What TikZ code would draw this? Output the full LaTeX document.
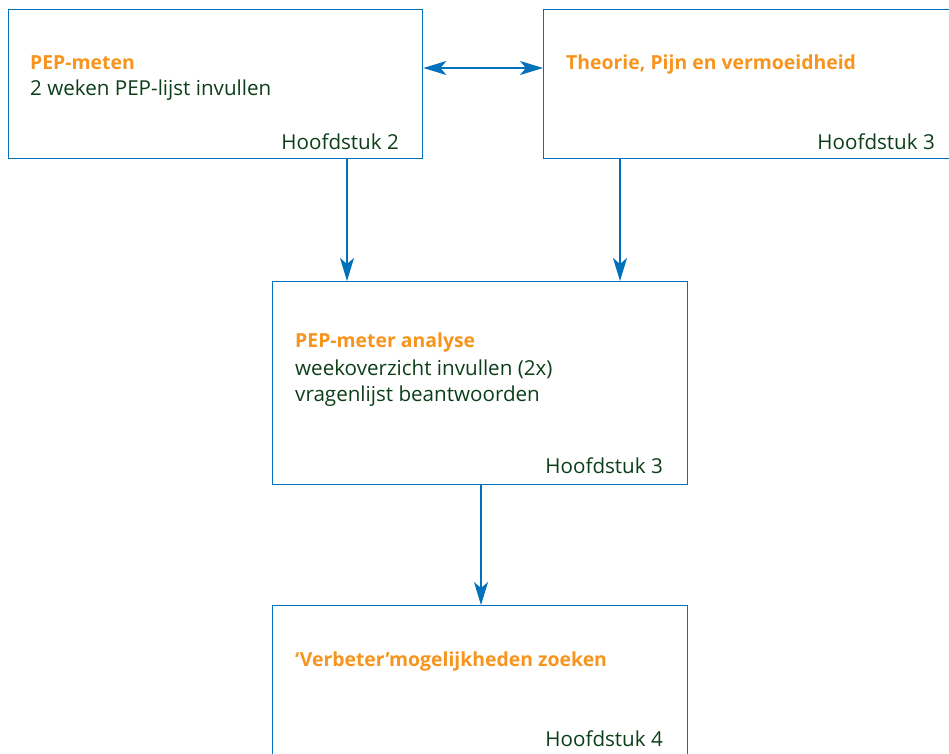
\documentclass[tikz,border=0pt]{standalone}
\usepackage{fontspec}
\setmainfont{Open Sans}
\usetikzlibrary{arrows.meta}
\definecolor{lineblue}{RGB}{0,114,188}
\definecolor{headorange}{RGB}{247,148,30}
\definecolor{textgreen}{RGB}{12,62,24}
\tikzset{
  tip/.style={},
  box/.style={draw=lineblue, line width=1.4pt, rectangle, anchor=north west, inner sep=0pt},
  arr/.style={draw=lineblue, line width=1.4pt, -{Stealth[length=23pt,width=14pt,inset=6pt]}},
  darr/.style={draw=lineblue, line width=1.4pt, {Stealth[length=23pt,width=14pt,inset=6pt]}-{Stealth[length=23pt,width=14pt,inset=6pt]}},
  head/.style={font=\fontsize{19.4}{27}\selectfont\bfseries, text=headorange, anchor=base west, inner sep=0pt},
  body/.style={font=\fontsize{20.6}{27}\selectfont, text=textgreen, anchor=base west, inner sep=0pt, align=left},
  chap/.style={font=\fontsize{20.6}{27}\selectfont, text=textgreen, anchor=base east, inner sep=0pt}
}
\begin{document}
\begin{tikzpicture}[x=1pt,y=1pt]
\useasboundingbox (0,0) rectangle (949,-753);
\clip (0,0) rectangle (949,-753);
% boxes
\node[box, minimum width=414pt, minimum height=149pt] (b1) at (8,-9) {};
\node[box, minimum width=420pt, minimum height=149pt] (b2) at (543,-9) {};
\node[box, minimum width=415pt, minimum height=203pt] (b3) at (272,-281) {};
\node[box, minimum width=415pt, minimum height=170pt] (b4) at (272,-605) {};
% texts
\node[head] (t1a) at (30,-69) {PEP-meten};
\node[body] (t1b) at (30,-95) {2 weken PEP-lijst invullen};
\node[chap] (c1) at (399,-149) {Hoofdstuk 2};
\node[head] (t2a) at (566,-69) {Theorie, Pijn en vermoeidheid};
\node[chap] (c2) at (935,-149) {Hoofdstuk 3};
\node[head] (t3a) at (295,-347) {PEP-meter analyse};
\node[body] (t3b) at (295,-375) {weekoverzicht invullen (2x)};
\node[body] (t3c) at (295,-401) {vragenlijst beantwoorden};
\node[chap] (c3) at (663,-473) {Hoofdstuk 3};
\node[head] (t4a) at (295,-666) {‘Verbeter’mogelijkheden zoeken};
\node[chap] (c4) at (663,-746) {Hoofdstuk 4};
% connectors
\coordinate (xa) at (347,0);
\coordinate (xb) at (620,0);
\coordinate (xc) at (481,0);
\coordinate (yh) at (0,-68);
\draw[darr] (b1.east |- yh) -- (b2.west |- yh);
\draw[arr] (xa |- b1.south) -- (xa |- b3.north);
\draw[arr] (xb |- b2.south) -- (xb |- b3.north);
\draw[arr] (xc |- b3.south) -- (xc |- b4.north);
\end{tikzpicture}
\end{document}
